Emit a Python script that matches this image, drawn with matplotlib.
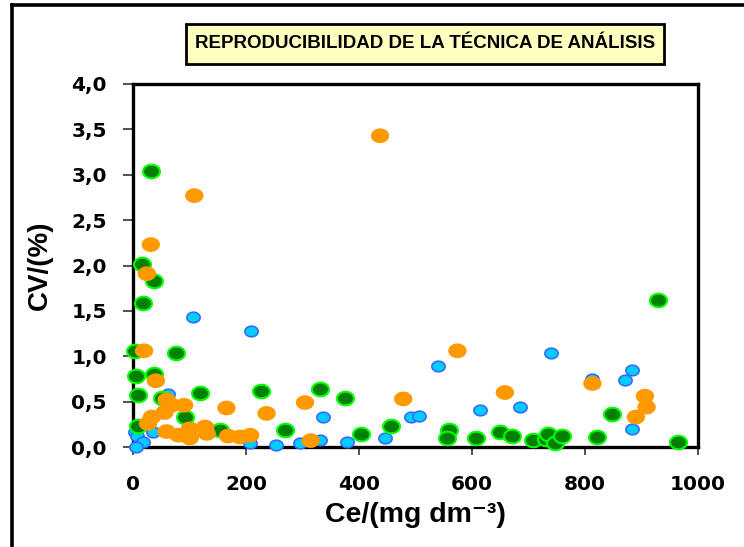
import numpy as np
import matplotlib
matplotlib.use("Agg")
import matplotlib.pyplot as plt
from matplotlib.path import Path
from matplotlib.lines import Line2D
from matplotlib.patches import Rectangle
from matplotlib.ticker import FuncFormatter, MultipleLocator

# ---------------- data ----------------
blue_x = [105, 208, 62, 3, 6, 35, 18, 5, 207, 253, 295, 331, 336, 378, 446,
          492, 506, 539, 614, 685, 739, 813, 871, 884, 884]
blue_y = [1.43, 1.28, 0.58, 0.17, 0.12, 0.16, 0.06, 0.00, 0.04, 0.02, 0.04, 0.08, 0.33, 0.05, 0.10,
          0.33, 0.345, 0.89, 0.41, 0.44, 1.04, 0.75, 0.74, 0.85, 0.20]

green_x = [31, 15, 37, 18, 3, 76, 5, 37, 8, 51, 118, 92, 8, 154, 227, 331, 375, 269,
           404, 456, 559, 555, 607, 650, 671, 708, 730, 735, 746, 760, 822, 848, 929, 964]
green_y = [3.04, 2.02, 1.83, 1.59, 1.06, 1.04, 0.78, 0.80, 0.57, 0.54, 0.60, 0.33, 0.23, 0.19,
           0.62, 0.64, 0.54, 0.19, 0.14, 0.23, 0.19, 0.10, 0.10, 0.17, 0.12, 0.08, 0.085, 0.14,
           0.04, 0.12, 0.11, 0.36, 1.62, 0.055]

orange_x = [437, 108, 31, 24, 19, 40, 59, 68, 90, 165, 55, 33, 26, 59, 80, 100, 100,
            127, 130, 168, 189, 207, 236, 304, 314, 478, 574, 658, 813, 890, 906, 909]
orange_y = [3.43, 2.77, 2.23, 1.91, 1.06, 0.73, 0.52, 0.46, 0.46, 0.43, 0.38, 0.33, 0.26,
            0.17, 0.13, 0.20, 0.10, 0.22, 0.15, 0.12, 0.11, 0.13, 0.37, 0.49, 0.07, 0.53,
            1.06, 0.60, 0.70, 0.33, 0.56, 0.44]

title = "REPRODUCIBILIDAD DE LA TÉCNICA DE ANÁLISIS"
xlabel = "Ce/(mg dm\u207b\u00b3)"
ylabel = "CV/(%)"

# ---------------- figure ----------------
W, H = 744, 547
fig = plt.figure(figsize=(W / 100, H / 100), dpi=100)
fig.patch.set_facecolor("white")

# outer frame (left and top edges visible)
fig.add_artist(Line2D([12 / W, 12 / W], [0, 1 - 5 / H], transform=fig.transFigure,
                      color="black", lw=2.6, solid_capstyle="projecting"))
fig.add_artist(Line2D([12 / W, 1.0], [1 - 5 / H, 1 - 5 / H], transform=fig.transFigure,
                      color="black", lw=2.6, solid_capstyle="projecting"))

ax = fig.add_axes([133.3 / W, 1 - 447 / H, (698 - 133.3) / W, (447 - 84) / H])

# elliptical marker (wider than tall)
t = np.linspace(0, 2 * np.pi, 60)
ell = Path(np.column_stack([np.cos(t), 0.8 * np.sin(t)]), closed=True)

ax.scatter(blue_x, blue_y, s=9.6 ** 2, marker=ell, facecolor="#00CCFF",
           edgecolor="#3366FF", linewidths=1.1, zorder=3, clip_on=False)
ax.scatter(green_x, green_y, s=12.2 ** 2, marker=ell, facecolor="#008000",
           edgecolor="#00FF00", linewidths=1.5, zorder=4, clip_on=False)
ax.scatter(orange_x, orange_y, s=13.2 ** 2, marker=ell, facecolor="#FF9900",
           edgecolor="none", zorder=5, clip_on=False)

ax.set_xlim(0, 1000)
ax.set_ylim(0, 4.0)
ax.xaxis.set_major_locator(MultipleLocator(200))
ax.yaxis.set_major_locator(MultipleLocator(0.5))
ax.yaxis.set_major_formatter(FuncFormatter(lambda v, p: f"{v:.1f}".replace(".", ",")))
ax.xaxis.set_major_formatter(FuncFormatter(lambda v, p: f"{v:.0f}"))

for sp in ax.spines.values():
    sp.set_linewidth(2.4)
    sp.set_color("black")

ax.tick_params(axis="both", direction="out", colors="#333333", width=1.2,
               labelcolor="black")
ax.tick_params(axis="y", length=7, pad=12)
ax.tick_params(axis="x", length=6, pad=14)
for lab in ax.get_xticklabels() + ax.get_yticklabels():
    lab.set_fontsize(14.5)
    lab.set_fontweight("bold")
    lab.set_family("DejaVu Sans")

ax.set_xlabel(xlabel, fontsize=20.5, fontweight="bold",
              family=["Liberation Sans", "DejaVu Sans"], labelpad=6)
ax.set_ylabel(ylabel, fontsize=20, fontweight="bold",
              family=["Liberation Sans", "DejaVu Sans"], labelpad=13)

# title box
fig.add_artist(Rectangle((186 / W, 1 - 64 / H), (664 - 186) / W, 40 / H,
                         transform=fig.transFigure, facecolor="#FFFFC0",
                         edgecolor="black", linewidth=2.0, zorder=1))
fig.text((186 + 664) / 2 / W, 1 - 44 / H, title, ha="center", va="center",
         fontsize=13.5, fontweight="bold",
         family=["Liberation Sans Narrow", "Liberation Sans"], zorder=2)

fig.savefig("out.png", dpi=100, facecolor="white")
